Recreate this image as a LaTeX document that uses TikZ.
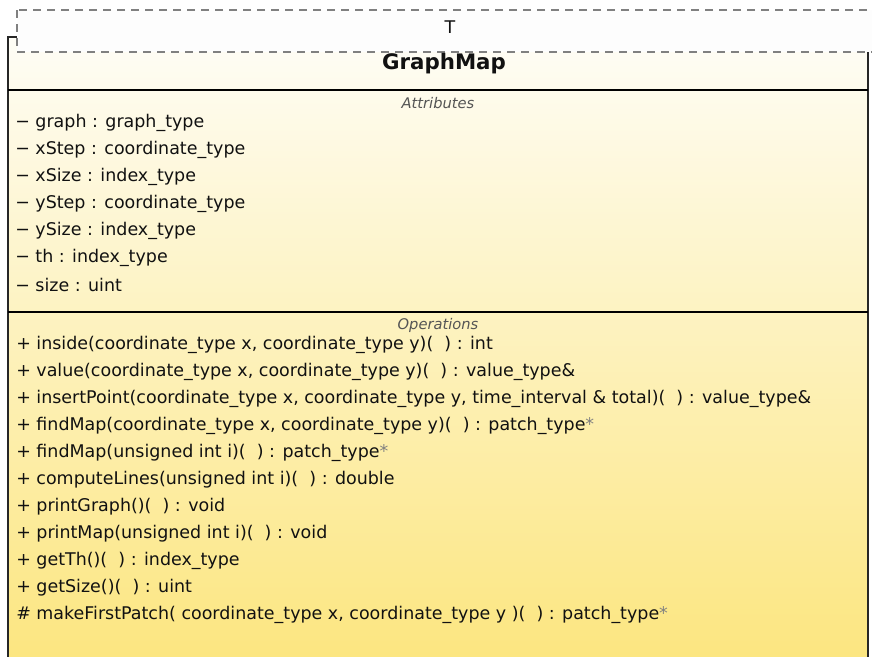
\documentclass[tikz,border=0pt]{standalone}
\usepackage{fontspec}
\setmainfont{DejaVu Sans}
\definecolor{txt}{HTML}{111111}
\definecolor{lbl}{HTML}{555555}
\definecolor{topc}{HTML}{FEFDF6}
\definecolor{botc}{HTML}{FCE57C}
\definecolor{dashc}{HTML}{808080}
\definecolor{tmplfill}{HTML}{FDFDFD}
\tikzset{
  member/.style={anchor=west, inner sep=0pt, text=txt, font=\fontsize{13.1pt}{15pt}\selectfont},
  complabel/.style={inner sep=0pt, text=lbl, font=\fontsize{11pt}{13pt}\selectfont\itshape},
  sepline/.style={line width=1.2pt, draw=black}
}
\newcommand{\gstar}{\textcolor{dashc}{*}}
\begin{document}
\begin{tikzpicture}[x=0.75pt,y=-0.75pt]
\useasboundingbox (0,0) rectangle (872,657);
\clip (0,0) rectangle (872,657);
% class body
\shade[top color=topc, bottom color=botc] (8,37) rectangle (868,680);
\draw[line width=1pt, draw=black!85] (8,680) -- (8,37) -- (868,37) -- (868,680);
\draw[sepline] (8,90) -- (868,90);
\draw[sepline] (8,312) -- (868,312);
% template parameter box
\draw[dashed, dash pattern=on 6pt off 4.5pt, line width=1.1pt, draw=dashc, fill=tmplfill] (17,10) rectangle (883,52);
\node[inner sep=0pt, text=txt, font=\fontsize{13.1pt}{15pt}\selectfont] (tparam) at (450,27) {T};
\node[inner sep=0pt, text=txt, font=\fontsize{16pt}{19pt}\selectfont\bfseries] (cname) at (444,64) {GraphMap};
% attributes
\node[complabel] (attrlbl) at (438,103) {Attributes};
\node[member] (a1) at (15,123) {\textminus{} graph : graph\_type};
\node[member] (a2) at (15,150) {\textminus{} xStep : coordinate\_type};
\node[member] (a3) at (15,177) {\textminus{} xSize : index\_type};
\node[member] (a4) at (15,204) {\textminus{} yStep : coordinate\_type};
\node[member] (a5) at (15,231) {\textminus{} ySize : index\_type};
\node[member] (a6) at (15,258) {\textminus{} th : index\_type};
\node[member] (a7) at (15,285) {\textminus{} size : uint};
% operations
\node[complabel] (oplbl) at (438,325) {Operations};
\node[member] (o1) at (16,345) {+ inside(coordinate\_type x, coordinate\_type y)(\ \ ) : int};
\node[member] (o2) at (16,372) {+ value(coordinate\_type x, coordinate\_type y)(\ \ ) : value\_type\&};
\node[member] (o3) at (16,399) {+ insertPoint(coordinate\_type x, coordinate\_type y, time\_interval \& total)(\ \ ) : value\_type\&};
\node[member] (o4) at (16,426) {+ findMap(coordinate\_type x, coordinate\_type y)(\ \ ) : patch\_type\gstar};
\node[member] (o5) at (16,453) {+ findMap(unsigned int i)(\ \ ) : patch\_type\gstar};
\node[member] (o6) at (16,480) {+ computeLines(unsigned int i)(\ \ ) : double};
\node[member] (o7) at (16,507) {+ printGraph()(\ \ ) : void};
\node[member] (o8) at (16,534) {+ printMap(unsigned int i)(\ \ ) : void};
\node[member] (o9) at (16,561) {+ getTh()(\ \ ) : index\_type};
\node[member] (o10) at (16,588) {+ getSize()(\ \ ) : uint};
\node[member] (o11) at (16,615) {\# makeFirstPatch( coordinate\_type x, coordinate\_type y )(\ \ ) : patch\_type\gstar};
\end{tikzpicture}
\end{document}
